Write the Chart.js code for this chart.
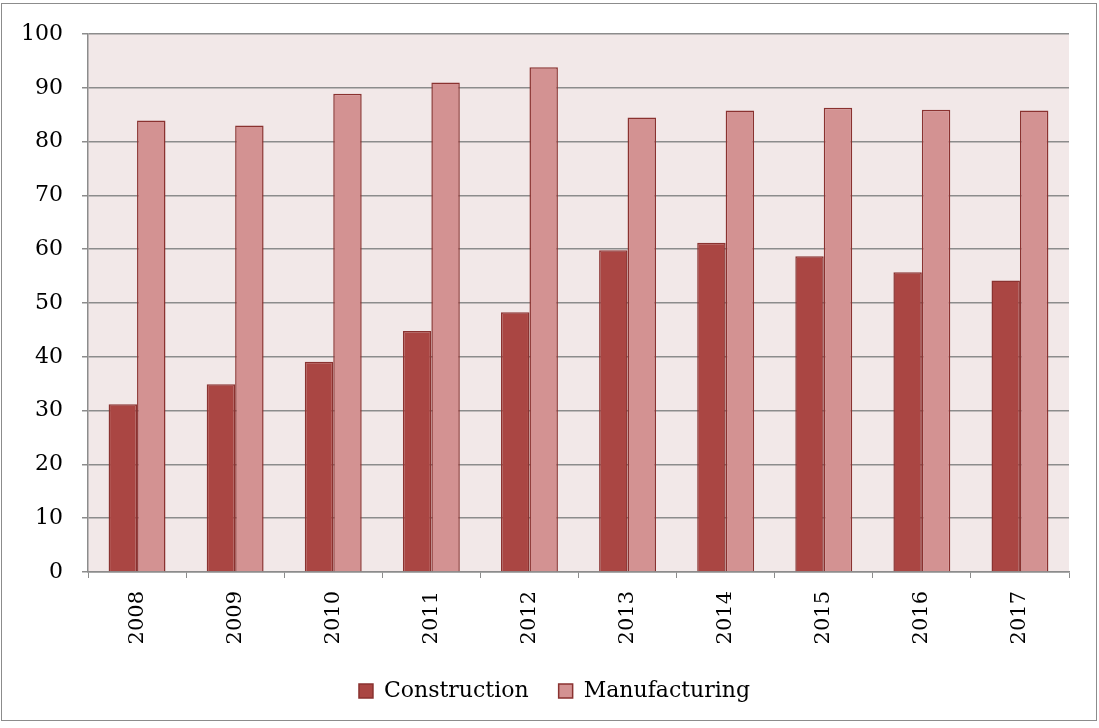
<!DOCTYPE html>
<html>
<head>
<meta charset="utf-8">
<script src="https://cdn.jsdelivr.net/npm/chart.js@4"></script>
<style>
  html, body { margin: 0; padding: 0; background: #fff; }
  #wrap { width: 1099px; height: 728px; position: relative; }
</style>
</head>
<body>
<div id="wrap"><canvas id="myChart" width="1099" height="728"></canvas></div>
<script>
var years = ['2008', '2009', '2010', '2011', '2012', '2013', '2014', '2015', '2016', '2017'];
var construction = [31.2, 34.9, 39.1, 44.8, 48.3, 59.8, 61.2, 58.7, 55.7, 54.2];
var manufacturing = [83.9, 83.0, 88.9, 91.0, 93.8, 84.5, 85.8, 86.3, 85.9, 85.8];
var yTicks = [0, 10, 20, 30, 40, 50, 60, 70, 80, 90, 100];

var fontFamily = '"DejaVu Serif", "Liberation Serif", serif';

// plot area fill + outer frame
var backdrop = {
    id: 'backdrop',
    beforeDraw: function (chart) {
        var c = chart.ctx, a = chart.chartArea;
        c.save();
        c.fillStyle = '#F2E8E8';
        c.fillRect(a.left, a.top, a.right - a.left, a.bottom - a.top);
        c.strokeStyle = '#8c8c8c';
        c.lineWidth = 1;
        c.strokeRect(1.5, 3.5, 1095, 717);
        c.restore();
    }
};

// legend in the original is centred on the whole frame, not on the padded area
var legendShift = {
    id: 'legendShift',
    afterLayout: function (chart) {
        chart.legend.left += 20;
        chart.legend.right += 20;
    }
};

var ctx = document.getElementById('myChart').getContext('2d');
var myChart = new Chart(ctx, {
    type: 'bar',
    data: {
        labels: years,
        datasets: [{
            label: 'Construction',
            data: construction,
            backgroundColor: '#AA4643',
            borderColor: '#8A3230',
            borderWidth: 1.5
        }, {
            label: 'Manufacturing',
            data: manufacturing,
            backgroundColor: '#D39292',
            borderColor: '#8A3230',
            borderWidth: 1.5
        }]
    },
    options: {
        responsive: false,
        animation: false,
        layout: { padding: { left: 0, right: 30, top: 34, bottom: 16 } },
        datasets: { bar: { categoryPercentage: 0.58, barPercentage: 1.0 } },
        scales: {
            x: {
                offset: true,
                grid: { display: true, drawOnChartArea: false, drawTicks: true, tickLength: 6, color: '#8c8c8c', offset: true },
                border: { display: true, color: '#8c8c8c', width: 1.5 },
                ticks: { minRotation: 90, maxRotation: 90, padding: 13, color: '#000', font: { family: fontFamily, size: 21 } },
                afterFit: function (s) { s.height = 78; }
            },
            y: {
                min: 0,
                max: 100,
                afterBuildTicks: function (s) { s.ticks = yTicks.map(function (v) { return { value: v }; }); },
                grid: { color: '#8c8c8c', lineWidth: 1.5, tickLength: 6 },
                border: { display: true, color: '#8c8c8c', width: 1.5 },
                ticks: { padding: 19, color: '#000', font: { family: fontFamily, size: 22 } },
                afterFit: function (s) { s.width = 88; }
            }
        },
        plugins: {
            legend: {
                position: 'bottom',
                labels: {
                    boxWidth: 14,
                    boxHeight: 14,
                    padding: 30,
                    color: '#000',
                    font: { family: fontFamily, size: 22 }
                }
            },
            tooltip: { enabled: false }
        }
    },
    plugins: [backdrop, legendShift]
});
</script>
</body>
</html>
